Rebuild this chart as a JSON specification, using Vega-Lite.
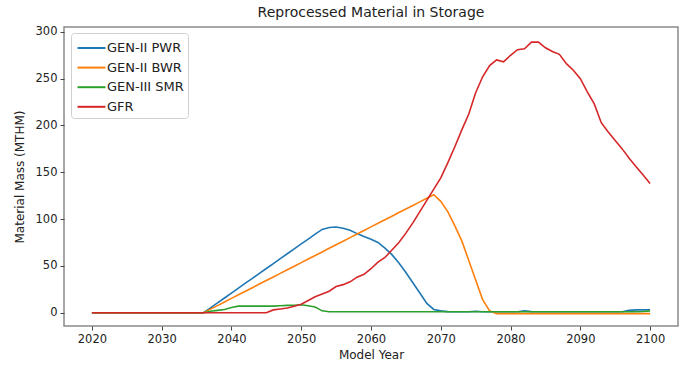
{
  "$schema": "https://vega.github.io/schema/vega-lite/v6.json",
  "autosize": {"type": "none"},
  "width": 614,
  "height": 299,
  "padding": {"left": 64, "top": 27, "right": 6, "bottom": 41},
  "background": "white",
  "title": {"text": "Reprocessed Material in Storage", "font": "DejaVu Sans", "fontSize": 14, "fontWeight": "normal", "color": "#222", "offset": 6},
  "data": {"values": [
{"year":2020,"series":"GEN-II PWR","mass":0},{"year":2021,"series":"GEN-II PWR","mass":0},{"year":2022,"series":"GEN-II PWR","mass":0},{"year":2023,"series":"GEN-II PWR","mass":0},{"year":2024,"series":"GEN-II PWR","mass":0},{"year":2025,"series":"GEN-II PWR","mass":0},{"year":2026,"series":"GEN-II PWR","mass":0},{"year":2027,"series":"GEN-II PWR","mass":0},{"year":2028,"series":"GEN-II PWR","mass":0},{"year":2029,"series":"GEN-II PWR","mass":0},{"year":2030,"series":"GEN-II PWR","mass":0},{"year":2031,"series":"GEN-II PWR","mass":0},{"year":2032,"series":"GEN-II PWR","mass":0},{"year":2033,"series":"GEN-II PWR","mass":0},{"year":2034,"series":"GEN-II PWR","mass":0},{"year":2035,"series":"GEN-II PWR","mass":0},{"year":2036,"series":"GEN-II PWR","mass":0},
{"year":2037,"series":"GEN-II PWR","mass":5.2},{"year":2038,"series":"GEN-II PWR","mass":10.5},{"year":2039,"series":"GEN-II PWR","mass":15.7},{"year":2040,"series":"GEN-II PWR","mass":21},{"year":2041,"series":"GEN-II PWR","mass":26.2},{"year":2042,"series":"GEN-II PWR","mass":31.5},{"year":2043,"series":"GEN-II PWR","mass":36.7},{"year":2044,"series":"GEN-II PWR","mass":42},{"year":2045,"series":"GEN-II PWR","mass":47.2},{"year":2046,"series":"GEN-II PWR","mass":52.5},{"year":2047,"series":"GEN-II PWR","mass":57.7},{"year":2048,"series":"GEN-II PWR","mass":63},{"year":2049,"series":"GEN-II PWR","mass":68.2},{"year":2050,"series":"GEN-II PWR","mass":73.5},{"year":2051,"series":"GEN-II PWR","mass":78.7},{"year":2052,"series":"GEN-II PWR","mass":84},
{"year":2053,"series":"GEN-II PWR","mass":89},{"year":2054,"series":"GEN-II PWR","mass":91},{"year":2055,"series":"GEN-II PWR","mass":91.5},{"year":2056,"series":"GEN-II PWR","mass":90.3},{"year":2057,"series":"GEN-II PWR","mass":88},{"year":2058,"series":"GEN-II PWR","mass":84.5},{"year":2059,"series":"GEN-II PWR","mass":81.5},{"year":2060,"series":"GEN-II PWR","mass":78.5},{"year":2061,"series":"GEN-II PWR","mass":75},{"year":2062,"series":"GEN-II PWR","mass":69},{"year":2063,"series":"GEN-II PWR","mass":62},{"year":2064,"series":"GEN-II PWR","mass":53},{"year":2065,"series":"GEN-II PWR","mass":43},{"year":2066,"series":"GEN-II PWR","mass":32},{"year":2067,"series":"GEN-II PWR","mass":21},{"year":2068,"series":"GEN-II PWR","mass":10},{"year":2069,"series":"GEN-II PWR","mass":3.5},
{"year":2070,"series":"GEN-II PWR","mass":2},{"year":2071,"series":"GEN-II PWR","mass":1.2},{"year":2072,"series":"GEN-II PWR","mass":1},{"year":2073,"series":"GEN-II PWR","mass":1},{"year":2074,"series":"GEN-II PWR","mass":1},{"year":2075,"series":"GEN-II PWR","mass":1.5},{"year":2076,"series":"GEN-II PWR","mass":1},{"year":2077,"series":"GEN-II PWR","mass":1},{"year":2078,"series":"GEN-II PWR","mass":1},{"year":2079,"series":"GEN-II PWR","mass":1},{"year":2080,"series":"GEN-II PWR","mass":1},{"year":2081,"series":"GEN-II PWR","mass":1},{"year":2082,"series":"GEN-II PWR","mass":2},{"year":2083,"series":"GEN-II PWR","mass":1.2},{"year":2084,"series":"GEN-II PWR","mass":1},{"year":2085,"series":"GEN-II PWR","mass":1},{"year":2086,"series":"GEN-II PWR","mass":1},{"year":2087,"series":"GEN-II PWR","mass":1},{"year":2088,"series":"GEN-II PWR","mass":1},{"year":2089,"series":"GEN-II PWR","mass":1},{"year":2090,"series":"GEN-II PWR","mass":1},{"year":2091,"series":"GEN-II PWR","mass":1},{"year":2092,"series":"GEN-II PWR","mass":1},{"year":2093,"series":"GEN-II PWR","mass":1},{"year":2094,"series":"GEN-II PWR","mass":1},{"year":2095,"series":"GEN-II PWR","mass":1},{"year":2096,"series":"GEN-II PWR","mass":1},{"year":2097,"series":"GEN-II PWR","mass":2.5},{"year":2098,"series":"GEN-II PWR","mass":3},{"year":2099,"series":"GEN-II PWR","mass":3},{"year":2100,"series":"GEN-II PWR","mass":3.2},

{"year":2020,"series":"GEN-II BWR","mass":0},{"year":2021,"series":"GEN-II BWR","mass":0},{"year":2022,"series":"GEN-II BWR","mass":0},{"year":2023,"series":"GEN-II BWR","mass":0},{"year":2024,"series":"GEN-II BWR","mass":0},{"year":2025,"series":"GEN-II BWR","mass":0},{"year":2026,"series":"GEN-II BWR","mass":0},{"year":2027,"series":"GEN-II BWR","mass":0},{"year":2028,"series":"GEN-II BWR","mass":0},{"year":2029,"series":"GEN-II BWR","mass":0},{"year":2030,"series":"GEN-II BWR","mass":0},{"year":2031,"series":"GEN-II BWR","mass":0},{"year":2032,"series":"GEN-II BWR","mass":0},{"year":2033,"series":"GEN-II BWR","mass":0},{"year":2034,"series":"GEN-II BWR","mass":0},{"year":2035,"series":"GEN-II BWR","mass":0},{"year":2036,"series":"GEN-II BWR","mass":0},
{"year":2037,"series":"GEN-II BWR","mass":3.8},{"year":2038,"series":"GEN-II BWR","mass":7.6},{"year":2039,"series":"GEN-II BWR","mass":11.5},{"year":2040,"series":"GEN-II BWR","mass":15.3},{"year":2041,"series":"GEN-II BWR","mass":19.1},{"year":2042,"series":"GEN-II BWR","mass":22.9},{"year":2043,"series":"GEN-II BWR","mass":26.7},{"year":2044,"series":"GEN-II BWR","mass":30.6},{"year":2045,"series":"GEN-II BWR","mass":34.4},{"year":2046,"series":"GEN-II BWR","mass":38.2},{"year":2047,"series":"GEN-II BWR","mass":42},{"year":2048,"series":"GEN-II BWR","mass":45.8},{"year":2049,"series":"GEN-II BWR","mass":49.7},{"year":2050,"series":"GEN-II BWR","mass":53.5},{"year":2051,"series":"GEN-II BWR","mass":57.3},{"year":2052,"series":"GEN-II BWR","mass":61.1},{"year":2053,"series":"GEN-II BWR","mass":64.9},{"year":2054,"series":"GEN-II BWR","mass":68.8},{"year":2055,"series":"GEN-II BWR","mass":72.6},{"year":2056,"series":"GEN-II BWR","mass":76.4},{"year":2057,"series":"GEN-II BWR","mass":80.2},{"year":2058,"series":"GEN-II BWR","mass":84},{"year":2059,"series":"GEN-II BWR","mass":87.9},{"year":2060,"series":"GEN-II BWR","mass":91.7},{"year":2061,"series":"GEN-II BWR","mass":95.5},{"year":2062,"series":"GEN-II BWR","mass":99.3},{"year":2063,"series":"GEN-II BWR","mass":103.1},{"year":2064,"series":"GEN-II BWR","mass":107},{"year":2065,"series":"GEN-II BWR","mass":110.8},{"year":2066,"series":"GEN-II BWR","mass":114.6},{"year":2067,"series":"GEN-II BWR","mass":118.4},{"year":2068,"series":"GEN-II BWR","mass":122.2},{"year":2069,"series":"GEN-II BWR","mass":126},
{"year":2070,"series":"GEN-II BWR","mass":119},{"year":2071,"series":"GEN-II BWR","mass":108},{"year":2072,"series":"GEN-II BWR","mass":93},{"year":2073,"series":"GEN-II BWR","mass":77},{"year":2074,"series":"GEN-II BWR","mass":56},{"year":2075,"series":"GEN-II BWR","mass":35},{"year":2076,"series":"GEN-II BWR","mass":14},{"year":2077,"series":"GEN-II BWR","mass":2},
{"year":2078,"series":"GEN-II BWR","mass":-1},{"year":2079,"series":"GEN-II BWR","mass":-1},{"year":2080,"series":"GEN-II BWR","mass":-1},{"year":2081,"series":"GEN-II BWR","mass":-1},{"year":2082,"series":"GEN-II BWR","mass":-1},{"year":2083,"series":"GEN-II BWR","mass":-1},{"year":2084,"series":"GEN-II BWR","mass":-1},{"year":2085,"series":"GEN-II BWR","mass":-1},{"year":2086,"series":"GEN-II BWR","mass":-1},{"year":2087,"series":"GEN-II BWR","mass":-1},{"year":2088,"series":"GEN-II BWR","mass":-1},{"year":2089,"series":"GEN-II BWR","mass":-1},{"year":2090,"series":"GEN-II BWR","mass":-1},{"year":2091,"series":"GEN-II BWR","mass":-1},{"year":2092,"series":"GEN-II BWR","mass":-1},{"year":2093,"series":"GEN-II BWR","mass":-1},{"year":2094,"series":"GEN-II BWR","mass":-1},{"year":2095,"series":"GEN-II BWR","mass":-1},{"year":2096,"series":"GEN-II BWR","mass":-1},{"year":2097,"series":"GEN-II BWR","mass":-1},{"year":2098,"series":"GEN-II BWR","mass":-1},{"year":2099,"series":"GEN-II BWR","mass":-1},{"year":2100,"series":"GEN-II BWR","mass":-1},

{"year":2020,"series":"GEN-III SMR","mass":0},{"year":2021,"series":"GEN-III SMR","mass":0},{"year":2022,"series":"GEN-III SMR","mass":0},{"year":2023,"series":"GEN-III SMR","mass":0},{"year":2024,"series":"GEN-III SMR","mass":0},{"year":2025,"series":"GEN-III SMR","mass":0},{"year":2026,"series":"GEN-III SMR","mass":0},{"year":2027,"series":"GEN-III SMR","mass":0},{"year":2028,"series":"GEN-III SMR","mass":0},{"year":2029,"series":"GEN-III SMR","mass":0},{"year":2030,"series":"GEN-III SMR","mass":0},{"year":2031,"series":"GEN-III SMR","mass":0},{"year":2032,"series":"GEN-III SMR","mass":0},{"year":2033,"series":"GEN-III SMR","mass":0},{"year":2034,"series":"GEN-III SMR","mass":0},{"year":2035,"series":"GEN-III SMR","mass":0},{"year":2036,"series":"GEN-III SMR","mass":0},
{"year":2037,"series":"GEN-III SMR","mass":1.5},{"year":2038,"series":"GEN-III SMR","mass":2.5},{"year":2039,"series":"GEN-III SMR","mass":3.5},{"year":2040,"series":"GEN-III SMR","mass":5.5},{"year":2041,"series":"GEN-III SMR","mass":7},{"year":2042,"series":"GEN-III SMR","mass":7},{"year":2043,"series":"GEN-III SMR","mass":7},{"year":2044,"series":"GEN-III SMR","mass":7},{"year":2045,"series":"GEN-III SMR","mass":7},{"year":2046,"series":"GEN-III SMR","mass":7},{"year":2047,"series":"GEN-III SMR","mass":7.5},{"year":2048,"series":"GEN-III SMR","mass":7.8},{"year":2049,"series":"GEN-III SMR","mass":8},{"year":2050,"series":"GEN-III SMR","mass":8.5},{"year":2051,"series":"GEN-III SMR","mass":7.5},{"year":2052,"series":"GEN-III SMR","mass":6},{"year":2053,"series":"GEN-III SMR","mass":2},
{"year":2054,"series":"GEN-III SMR","mass":1},{"year":2055,"series":"GEN-III SMR","mass":1},{"year":2056,"series":"GEN-III SMR","mass":1},{"year":2057,"series":"GEN-III SMR","mass":1},{"year":2058,"series":"GEN-III SMR","mass":1},{"year":2059,"series":"GEN-III SMR","mass":1},{"year":2060,"series":"GEN-III SMR","mass":1},{"year":2061,"series":"GEN-III SMR","mass":1},{"year":2062,"series":"GEN-III SMR","mass":1},{"year":2063,"series":"GEN-III SMR","mass":1},{"year":2064,"series":"GEN-III SMR","mass":1},{"year":2065,"series":"GEN-III SMR","mass":1},{"year":2066,"series":"GEN-III SMR","mass":1},{"year":2067,"series":"GEN-III SMR","mass":1},{"year":2068,"series":"GEN-III SMR","mass":1},{"year":2069,"series":"GEN-III SMR","mass":1},{"year":2070,"series":"GEN-III SMR","mass":1},{"year":2071,"series":"GEN-III SMR","mass":1},{"year":2072,"series":"GEN-III SMR","mass":1},{"year":2073,"series":"GEN-III SMR","mass":1},{"year":2074,"series":"GEN-III SMR","mass":1},{"year":2075,"series":"GEN-III SMR","mass":1},{"year":2076,"series":"GEN-III SMR","mass":1},{"year":2077,"series":"GEN-III SMR","mass":1},{"year":2078,"series":"GEN-III SMR","mass":1},{"year":2079,"series":"GEN-III SMR","mass":1},{"year":2080,"series":"GEN-III SMR","mass":1},{"year":2081,"series":"GEN-III SMR","mass":1},{"year":2082,"series":"GEN-III SMR","mass":1},{"year":2083,"series":"GEN-III SMR","mass":1},{"year":2084,"series":"GEN-III SMR","mass":1},{"year":2085,"series":"GEN-III SMR","mass":1},{"year":2086,"series":"GEN-III SMR","mass":1},{"year":2087,"series":"GEN-III SMR","mass":1},{"year":2088,"series":"GEN-III SMR","mass":1},{"year":2089,"series":"GEN-III SMR","mass":1},{"year":2090,"series":"GEN-III SMR","mass":1},{"year":2091,"series":"GEN-III SMR","mass":1},{"year":2092,"series":"GEN-III SMR","mass":1},{"year":2093,"series":"GEN-III SMR","mass":1},{"year":2094,"series":"GEN-III SMR","mass":1},{"year":2095,"series":"GEN-III SMR","mass":1},{"year":2096,"series":"GEN-III SMR","mass":1},{"year":2097,"series":"GEN-III SMR","mass":1},{"year":2098,"series":"GEN-III SMR","mass":1},{"year":2099,"series":"GEN-III SMR","mass":1.3},{"year":2100,"series":"GEN-III SMR","mass":2},

{"year":2020,"series":"GFR","mass":0},{"year":2021,"series":"GFR","mass":0},{"year":2022,"series":"GFR","mass":0},{"year":2023,"series":"GFR","mass":0},{"year":2024,"series":"GFR","mass":0},{"year":2025,"series":"GFR","mass":0},{"year":2026,"series":"GFR","mass":0},{"year":2027,"series":"GFR","mass":0},{"year":2028,"series":"GFR","mass":0},{"year":2029,"series":"GFR","mass":0},{"year":2030,"series":"GFR","mass":0},{"year":2031,"series":"GFR","mass":0},{"year":2032,"series":"GFR","mass":0},{"year":2033,"series":"GFR","mass":0},{"year":2034,"series":"GFR","mass":0},{"year":2035,"series":"GFR","mass":0},{"year":2036,"series":"GFR","mass":0},{"year":2037,"series":"GFR","mass":0},{"year":2038,"series":"GFR","mass":0},{"year":2039,"series":"GFR","mass":0},{"year":2040,"series":"GFR","mass":0},{"year":2041,"series":"GFR","mass":0},{"year":2042,"series":"GFR","mass":0},{"year":2043,"series":"GFR","mass":0},{"year":2044,"series":"GFR","mass":0},{"year":2045,"series":"GFR","mass":0},
{"year":2046,"series":"GFR","mass":3},{"year":2047,"series":"GFR","mass":4},{"year":2048,"series":"GFR","mass":5},{"year":2049,"series":"GFR","mass":7},{"year":2050,"series":"GFR","mass":9},{"year":2051,"series":"GFR","mass":13},{"year":2052,"series":"GFR","mass":17},{"year":2053,"series":"GFR","mass":20},{"year":2054,"series":"GFR","mass":23},{"year":2055,"series":"GFR","mass":28},
{"year":2056,"series":"GFR","mass":30},{"year":2057,"series":"GFR","mass":33},{"year":2058,"series":"GFR","mass":38},{"year":2059,"series":"GFR","mass":41},{"year":2060,"series":"GFR","mass":47},{"year":2061,"series":"GFR","mass":54},{"year":2062,"series":"GFR","mass":59},{"year":2063,"series":"GFR","mass":67},{"year":2064,"series":"GFR","mass":75},{"year":2065,"series":"GFR","mass":85},
{"year":2066,"series":"GFR","mass":96},{"year":2067,"series":"GFR","mass":108},{"year":2068,"series":"GFR","mass":120},{"year":2069,"series":"GFR","mass":132},{"year":2070,"series":"GFR","mass":144},{"year":2071,"series":"GFR","mass":160},{"year":2072,"series":"GFR","mass":177},{"year":2073,"series":"GFR","mass":195},{"year":2074,"series":"GFR","mass":212},{"year":2075,"series":"GFR","mass":235},
{"year":2076,"series":"GFR","mass":252},{"year":2077,"series":"GFR","mass":264},{"year":2078,"series":"GFR","mass":270},{"year":2079,"series":"GFR","mass":268},{"year":2080,"series":"GFR","mass":275},{"year":2081,"series":"GFR","mass":281},{"year":2082,"series":"GFR","mass":282},{"year":2083,"series":"GFR","mass":289},{"year":2084,"series":"GFR","mass":289},{"year":2085,"series":"GFR","mass":283},
{"year":2086,"series":"GFR","mass":279},{"year":2087,"series":"GFR","mass":276},{"year":2088,"series":"GFR","mass":266},{"year":2089,"series":"GFR","mass":259},{"year":2090,"series":"GFR","mass":250},{"year":2091,"series":"GFR","mass":236},{"year":2092,"series":"GFR","mass":223},{"year":2093,"series":"GFR","mass":203},{"year":2094,"series":"GFR","mass":193},{"year":2095,"series":"GFR","mass":184},
{"year":2096,"series":"GFR","mass":175},{"year":2097,"series":"GFR","mass":165},{"year":2098,"series":"GFR","mass":156},{"year":2099,"series":"GFR","mass":147},{"year":2100,"series":"GFR","mass":138}
  ]},
  "mark": {"type": "line", "strokeWidth": 1.6, "clip": true},
  "encoding": {
    "x": {"field": "year", "type": "quantitative", "title": "Model Year",
      "scale": {"domain": [2016, 2104], "nice": false, "zero": false},
      "axis": {"values": [2020,2030,2040,2050,2060,2070,2080,2090,2100], "format": "d", "labelPadding": 3, "titlePadding": 5}},
    "y": {"field": "mass", "type": "quantitative", "title": "Material Mass (MTHM)",
      "scale": {"domain": [-14.2, 305.2], "nice": false, "zero": false},
      "axis": {"values": [0,50,100,150,200,250,300], "labelPadding": 3, "titlePadding": 9}},
    "color": {"field": "series", "type": "nominal", "title": null,
      "scale": {"domain": ["GEN-II PWR","GEN-II BWR","GEN-III SMR","GFR"], "range": ["#1f77b4","#ff7f0e","#2ca02c","#d62728"]},
      "legend": {"orient": "none", "legendX": 7, "legendY": 6, "symbolType": "M-0.87,0H2.0", "symbolSize": 380, "symbolStrokeWidth": 2, "labelFont": "DejaVu Sans", "labelFontSize": 13, "labelColor": "#222", "padding": 4, "rowPadding": 1.6, "labelOffset": 10, "fillColor": "white", "strokeColor": "#d0d0d0", "cornerRadius": 3}}
  },
  "config": {
    "view": {"stroke": "#8a8a8a", "strokeWidth": 1.5},
    "axis": {"grid": false, "domain": false, "tickColor": "#444", "tickSize": 4, "labelFont": "DejaVu Sans", "labelFontSize": 11.5, "labelColor": "#222", "titleFont": "DejaVu Sans", "titleFontSize": 12, "titleFontWeight": "normal", "titleColor": "#222"}
  }
}
